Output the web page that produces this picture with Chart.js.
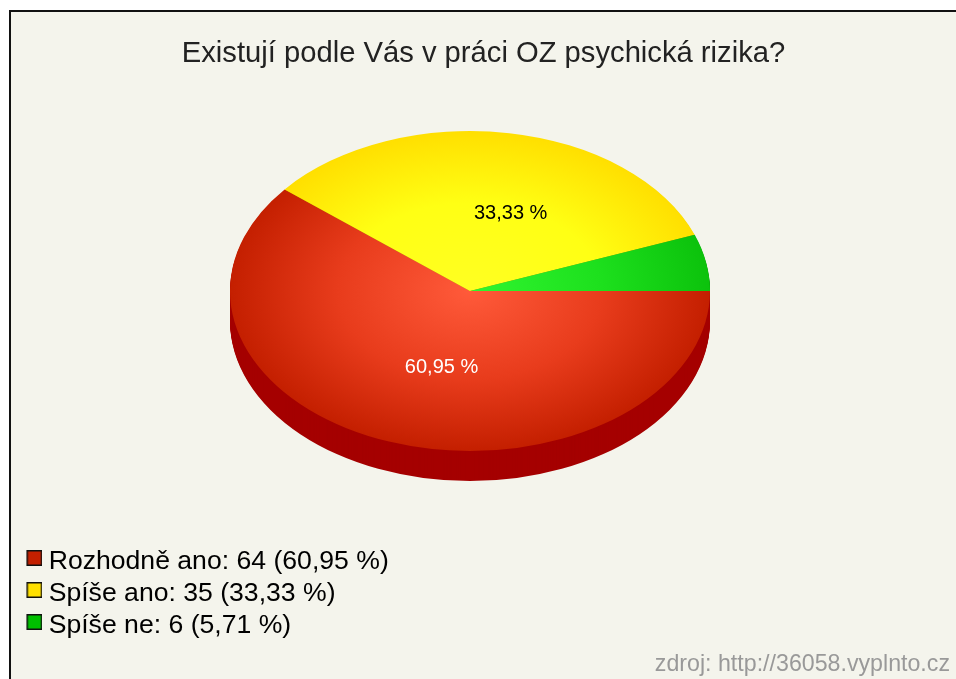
<!DOCTYPE html>
<html lang="cs">
<head>
<meta charset="utf-8">
<title>Existují podle Vás v práci OZ psychická rizika?</title>
<style>
html,body{margin:0;padding:0;background:#fff;width:956px;height:679px;overflow:hidden}
#frame{position:absolute;left:9px;top:10px;width:945px;height:667px;border-left:2px solid #111;border-top:2px solid #111;background:#f4f4ec}
canvas{display:block}
</style>
<script src="https://cdn.jsdelivr.net/npm/chart.js@4"></script>
</head>
<body>
<div id="frame"><canvas id="c" width="945" height="667"></canvas></div>
<script>
const titleText = "Existují podle Vás v práci OZ psychická rizika?";
const sourceText = "zdroj: http://36058.vyplnto.cz";
const categories = ["Rozhodně ano", "Spíše ano", "Spíše ne"];
const values = [64, 35, 6];
const percentLabels = ["60,95 %", "33,33 %", "5,71 %"];
const showSliceLabel = [true, true, false];
const sliceLabelColors = ["#ffffff", "#000000", "#000000"];
const sliceLabelNudgeX = [12, 21, 0];
const legendColors = ["#c42000", "#ffe000", "#00c000"];
const gradientInner = ["#ff5a3a", "#ffff22", "#30f530"];
const gradientMiddle = ["#e83c1c", "#ffff14", "#1de01d"];
const gradientOuter = ["#c41f00", "#ffdf00", "#0cc20c"];
const sideColors = ["#a50000", "#a89000", "#008000"];

const PIE_X = 459, PIE_Y = 279, RADIUS = 240, SQUASH = 2 / 3, DEPTH = 30, LABEL_R = 120;

function pieTransform(ctx, arc, dy) {
  ctx.translate(PIE_X - arc.x, PIE_Y + dy);
  ctx.scale(1, SQUASH);
  ctx.translate(0, -arc.y);
}

function swatch(color) {
  const s = document.createElement("canvas");
  s.width = 27; s.height = 23;
  const g = s.getContext("2d");
  g.fillStyle = color;
  g.fillRect(11, 0, 16, 16);
  g.strokeStyle = "#111111";
  g.lineWidth = 1.5;
  g.strokeRect(11.75, 0.75, 14.5, 14.5);
  return s;
}

const tiltedPie = {
  id: "tiltedPie",
  beforeDatasetDraw(chart) {
    const ctx = chart.ctx;
    const arcs = chart.getDatasetMeta(0).data;
    for (let dy = DEPTH; dy >= 1; dy--) {
      arcs.forEach((arc, i) => {
        ctx.save();
        pieTransform(ctx, arc, dy);
        ctx.beginPath();
        ctx.moveTo(arc.x, arc.y);
        ctx.arc(arc.x, arc.y, arc.outerRadius, arc.startAngle, arc.endAngle);
        ctx.closePath();
        ctx.fillStyle = sideColors[i];
        ctx.fill();
        ctx.restore();
      });
    }
    ctx.save();
    pieTransform(ctx, arcs[0], 0);
  },
  afterDatasetDraw(chart) {
    chart.ctx.restore();
  },
  afterDatasetsDraw(chart) {
    const ctx = chart.ctx;
    chart.getDatasetMeta(0).data.forEach((arc, i) => {
      if (!showSliceLabel[i]) return;
      const mid = (arc.startAngle + arc.endAngle) / 2;
      ctx.save();
      ctx.font = "20px 'Liberation Sans'";
      ctx.fillStyle = sliceLabelColors[i];
      ctx.textAlign = "center";
      ctx.textBaseline = "middle";
      ctx.fillText(percentLabels[i], PIE_X + Math.cos(mid) * LABEL_R + sliceLabelNudgeX[i],
                   PIE_Y + Math.sin(mid) * LABEL_R * SQUASH + 1);
      ctx.restore();
    });
  }
};

function sliceFill(c) {
  const area = c.chart.chartArea;
  if (!area) return legendColors[c.dataIndex];
  const cx = (area.left + area.right) / 2, cy = (area.top + area.bottom) / 2;
  const g = c.chart.ctx.createRadialGradient(cx, cy, 0, cx, cy, RADIUS);
  g.addColorStop(0, gradientInner[c.dataIndex]);
  g.addColorStop(0.55, gradientMiddle[c.dataIndex]);
  g.addColorStop(1, gradientOuter[c.dataIndex]);
  return g;
}

new Chart(document.getElementById("c"), {
  type: "pie",
  plugins: [tiltedPie],
  data: {
    labels: categories,
    datasets: [{
      data: values,
      backgroundColor: sliceFill,
      hoverBackgroundColor: sliceFill,
      borderWidth: 0,
      clip: false
    }]
  },
  options: {
    responsive: false,
    animation: false,
    rotation: 90,
    radius: RADIUS,
    layout: { padding: { left: 6, right: 6, top: 24, bottom: 0 } },
    plugins: {
      tooltip: { enabled: false },
      title: {
        display: true,
        text: titleText,
        color: "#222222",
        font: { family: "'Liberation Sans'", size: 29.2, weight: "normal" },
        padding: { top: 0, bottom: 10 }
      },
      subtitle: {
        display: true,
        position: "bottom",
        align: "end",
        text: sourceText,
        color: "#999999",
        font: { family: "'Liberation Sans'", size: 23.2, weight: "normal" },
        padding: { top: 7, bottom: 0 }
      },
      legend: {
        display: true,
        position: "left",
        align: "end",
        fullSize: false,
        labels: {
          usePointStyle: true,
          pointStyleWidth: 13,
          boxHeight: 15,
          padding: 5.4,
          color: "#333333",
          font: { family: "'Liberation Sans'", size: 26.6 },
          generateLabels() {
            return categories.map((name, i) => ({
              text: name + ": " + values[i] + " (" + percentLabels[i] + ")",
              fillStyle: legendColors[i],
              pointStyle: swatch(legendColors[i]),
              lineWidth: 0,
              index: i
            }));
          }
        }
      }
    }
  }
});
</script>
</body>
</html>
